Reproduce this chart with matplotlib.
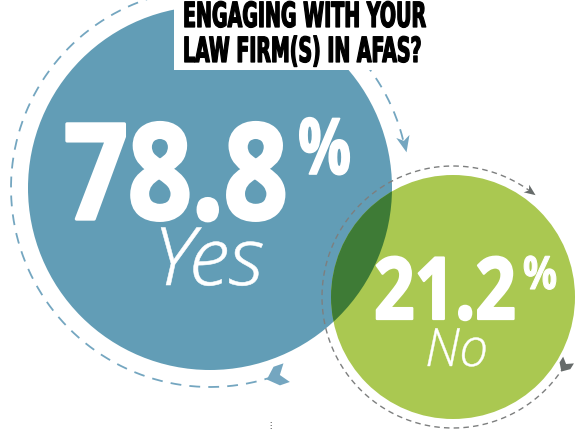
import numpy as np
import matplotlib
matplotlib.use("Agg")
import matplotlib.pyplot as plt
from matplotlib.patches import Circle, Rectangle
from matplotlib.patheffects import AbstractPathEffect
from matplotlib.markers import MarkerStyle
from matplotlib.path import Path
from matplotlib.transforms import Affine2D

# data
answers = ["Yes", "No"]
values = [78.8, 21.2]
title_lines = ["ENGAGING WITH YOUR", "LAW FIRM(S) IN AFAS?"]

# colours
blue = "#629db6"
green = "#aac851"
overlap = "#3e7b36"
blue_ring = "#74a6c0"
grey_ring = "#7d7f7f"
grey_arrow = "#666b6a"


class Stretch(AbstractPathEffect):
    # stretch glyphs vertically from the baseline, optional outline to make them heavier
    def __init__(self, sy, lw=0):
        super().__init__()
        self.sy = sy
        self.lw = lw

    def draw_path(self, renderer, gc, tpath, affine, rgbFace=None):
        gc0 = renderer.new_gc()
        gc0.copy_properties(gc)
        if self.lw:
            gc0.set_linewidth(self.lw)
            gc0.set_foreground(rgbFace)
            gc0.set_joinstyle("round")
        renderer.draw_path(gc0, tpath, Affine2D().scale(1, self.sy) + affine, rgbFace)
        gc0.restore()


fig = plt.figure(figsize=(5.78, 4.30), dpi=100)
ax = fig.add_axes([0, 0, 1, 1])
ax.set_xlim(0, 578)
ax.set_ylim(430, 0)
ax.axis("off")

# circles (centre, radius) in pixels
c_big, r_big = (210, 188), 182
c_small, r_small = (453, 297), 122

big = Circle(c_big, r_big, fc=blue, ec="none", zorder=1)
small = Circle(c_small, r_small, fc=green, ec="none", zorder=2)
ax.add_patch(big)
ax.add_patch(small)
both = Circle(c_small, r_small, fc=overlap, ec="none", zorder=3)
ax.add_patch(both)
both.set_clip_path(big)

head = Path([(1, 0), (-0.8, 0.75), (-0.3, 0), (-0.8, -0.75), (1, 0)],
            [Path.MOVETO, Path.LINETO, Path.LINETO, Path.LINETO, Path.CLOSEPOLY])
tail = Path([(0.7, 0), (-0.1, 0.75), (-0.9, 0.75), (-0.35, 0), (-0.9, -0.75), (-0.1, -0.75), (0.7, 0)],
            [Path.MOVETO] + [Path.LINETO] * 5 + [Path.CLOSEPOLY])


def ring(c, r, t0, t1, color, lw, dashes, head_size, tail_size, acolor):
    t = np.radians(np.linspace(t0, t1, 400))
    ax.plot(c[0] + r * np.cos(t), c[1] + r * np.sin(t), color=color, lw=lw,
            dashes=dashes, zorder=4)
    for ang, p, ms in [(t0, tail, tail_size), (t1, head, head_size)]:
        a = np.radians(ang)
        rot = np.degrees(np.arctan2(-np.cos(a), -np.sin(a)))
        m = MarkerStyle(p, transform=Affine2D().rotate_deg(rot))
        ax.plot(c[0] + r * np.cos(a), c[1] + r * np.sin(a), marker=m, ms=ms,
                color=acolor, mec="none", zorder=5)


ring(c_small, 131, 32, 306, grey_ring, 1.0, (4, 3), 9, 11, grey_arrow)
ring(c_big, 199, 71, 347, blue_ring, 1.3, (6, 4.5), 13, 17, blue_ring)

# title box
ax.add_patch(Rectangle((174, -5), 270, 75, fc="white", ec="none", zorder=6))

# (text, fontsize for the right height, width it should take, outline width)
texts = []
title_font = ["DejaVu Sans"]
for line, y, w in zip(title_lines, [27, 62], [244, 239]):
    t = ax.text(183, y, line, fontsize=25, family=title_font, weight="bold",
                color="black", ha="left", va="baseline", zorder=7)
    texts.append((t, w, 0.9))

num_font = ["Open Sans", "DejaVu Sans"]
# big number, percent sign, answer: x, baseline, size, width
layout = [
    [(64, 219, 96, 224, 2.4), (298, 174, 56, 53, 1.2), (153, 285, 58, 110, 0.4)],
    [(374, 319, 62, 142, 1.6), (523, 289, 33, 34, 0.8), (425, 366, 38, 63, 0.3)],
]
for v, a, pos in zip(values, answers, layout):
    parts = [f"{v:.1f}", "%", a]
    for i, (s, (x, y, fs, w, lw)) in enumerate(zip(parts, pos)):
        if i < 2:
            t = ax.text(x, y, s, fontsize=fs, family=num_font, weight="bold",
                        color="white", ha="left", va="baseline", zorder=7)
        else:
            t = ax.text(x, y, s, fontsize=fs, family=num_font, weight="light",
                        style="italic", color="white", ha="left", va="baseline", zorder=7)
        texts.append((t, w, lw))

ax.text(270, 428, "⋮", fontsize=6, color="#333333", ha="center", va="baseline")

# fit each text to its width, then stretch back up to the height
fig.canvas.draw()
for t, w, lw in texts:
    k = w / t.get_window_extent().width
    t.set_fontsize(t.get_fontsize() * k)
    t.set_path_effects([Stretch(1 / k, lw)])

fig.savefig("out.png", dpi=100)
